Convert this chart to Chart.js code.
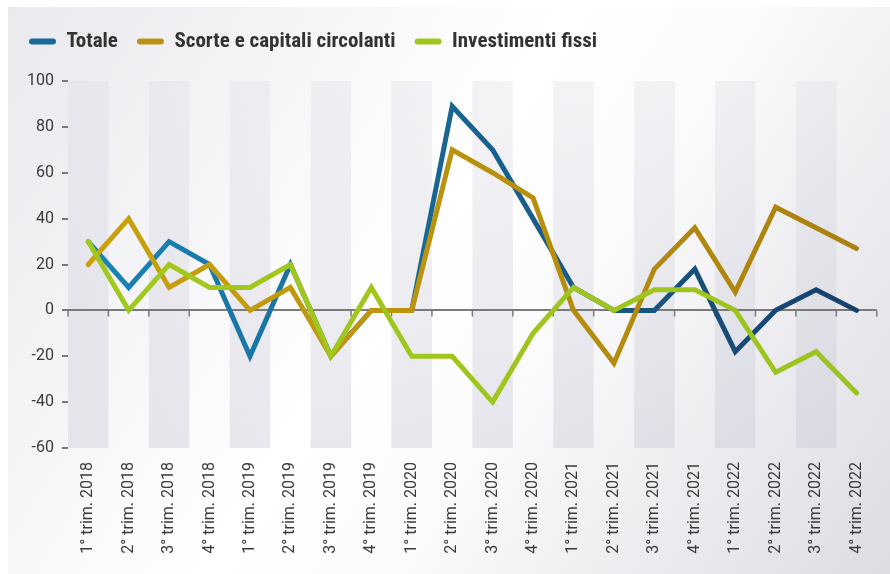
<!DOCTYPE html>
<html>
<head>
<meta charset="utf-8">
<script src="https://cdn.jsdelivr.net/npm/chart.js@4.4.1/dist/chart.umd.min.js"></script>
<style>
  html, body { margin: 0; padding: 0; background: #ffffff; }
  #wrap { width: 890px; height: 574px; position: relative; }
</style>
</head>
<body>
<div id="wrap"><canvas id="c" width="890" height="574"></canvas></div>
<script>
// ---- Data ----
const categories = [
  "1° trim. 2018", "2° trim. 2018", "3° trim. 2018", "4° trim. 2018",
  "1° trim. 2019", "2° trim. 2019", "3° trim. 2019", "4° trim. 2019",
  "1° trim. 2020", "2° trim. 2020", "3° trim. 2020", "4° trim. 2020",
  "1° trim. 2021", "2° trim. 2021", "3° trim. 2021", "4° trim. 2021",
  "1° trim. 2022", "2° trim. 2022", "3° trim. 2022", "4° trim. 2022"
];
const seriesNames = ["Totale", "Scorte e capitali circolanti", "Investimenti fissi"];
const totale       = [30, 10, 30, 20, -20, 20, -20, 0, 0, 89, 70, 40, 10, 0, 0, 18, -18, 0, 9, 0];
const scorte       = [20, 40, 10, 20, 0, 10, -20, 0, 0, 70, 60, 49, 0, -23, 18, 36, 8, 45, 36, 27];
const investimenti = [30, 0, 20, 10, 10, 20, -20, 10, -20, -20, -40, -10, 10, 0, 9, 9, 0, -27, -18, -36];
const yMin = -60, yMax = 100, yStep = 20;

// ---- Styles ----
const lineGradients = [
  ["#1a86b8", "#173f69"],
  ["#caa20c", "#a9800f"],
  ["#a3c81d", "#9cc41f"]
];
const legendColors = ["#176a99", "#bb9310", "#a0c61e"];
const FONT = "Roboto, 'Liberation Sans', sans-serif";
const LEGEND_FONT = "'Liberation Sans Narrow', 'Roboto Condensed', Roboto, sans-serif";

function gradFor(idx) {
  return function(ctx) {
    const chart = ctx.chart;
    const a = chart.chartArea;
    if (!a) return lineGradients[idx][0];
    const g = chart.ctx.createLinearGradient(a.left, 0, a.right, 0);
    g.addColorStop(0, lineGradients[idx][0]);
    g.addColorStop(1, lineGradients[idx][1]);
    return g;
  };
}

const legendSpacePlugin = {
  id: 'legendSpace',
  beforeInit(chart) {
    const orig = chart.legend.fit;
    chart.legend.fit = function() {
      orig.bind(chart.legend)();
      this.height += 19;
    };
  }
};

const bgPlugin = {
  id: 'bg',
  beforeDraw(chart) {
    const ctx = chart.ctx;
    const W = chart.width, H = chart.height;
    ctx.save();
    ctx.fillStyle = '#ffffff';
    ctx.fillRect(0, 0, W, H);
    const g = ctx.createLinearGradient(8, 7, W, H);
    g.addColorStop(0, '#e9e9ee');
    g.addColorStop(0.45, '#ffffff');
    g.addColorStop(0.6, '#fbfbfc');
    g.addColorStop(1, '#dcdce3');
    ctx.fillStyle = g;
    ctx.fillRect(8, 7, W - 8, H - 7);
    // alternating bands
    const x = chart.scales.x, a = chart.chartArea;
    const half = (x.getPixelForValue(1) - x.getPixelForValue(0)) / 2;
    const bg = ctx.createLinearGradient(0, a.top, 0, a.bottom);
    bg.addColorStop(0, 'rgba(205,205,218,0.22)');
    bg.addColorStop(1, 'rgba(200,200,214,0.42)');
    ctx.fillStyle = bg;
    for (let i = 0; i < categories.length; i += 2) {
      const cx = x.getPixelForValue(i);
      ctx.fillRect(cx - half, a.top, half * 2, a.bottom - a.top);
    }
    ctx.restore();
  }
};

const zeroTicksPlugin = {
  id: 'zeroTicks',
  beforeDatasetsDraw(chart) {
    const ctx = chart.ctx;
    const x = chart.scales.x, y = chart.scales.y;
    const y0 = y.getPixelForValue(0);
    const half = (x.getPixelForValue(1) - x.getPixelForValue(0)) / 2;
    ctx.save();
    ctx.strokeStyle = '#7a7a7a';
    ctx.lineWidth = 1.5;
    ctx.beginPath();
    for (let i = 0; i <= categories.length; i++) {
      const px = x.getPixelForValue(i) - half;
      ctx.moveTo(px, y0);
      ctx.lineTo(px, y0 + 6);
    }
    ctx.stroke();
    ctx.restore();
  }
};

const seriesData = [totale, scorte, investimenti];
const datasets = seriesData.map((d, i) => ({
  label: seriesNames[i],
  data: d,
  borderColor: gradFor(i),
  backgroundColor: legendColors[i],
  borderWidth: 5,
  borderCapStyle: 'round',
  borderJoinStyle: 'miter',
  pointRadius: 0,
  pointHoverRadius: 0,
  tension: 0,
  fill: false,
  order: 2 - i
}));

new Chart(document.getElementById('c'), {
  type: 'line',
  data: { labels: categories, datasets },
  options: {
    responsive: false,
    animation: false,
    devicePixelRatio: 1,
    layout: { padding: { left: 10, right: 10, top: 12, bottom: 0 } },
    plugins: {
      legend: {
        display: true,
        position: 'top',
        align: 'start',
        labels: {
          font: { family: LEGEND_FONT, size: 21, weight: 'bold' },
          color: '#333333',
          boxWidth: 27,
          boxHeight: 6,
          useBorderRadius: true,
          borderRadius: 3,
          padding: 19,
          sort: (a, b) => a.datasetIndex - b.datasetIndex,
          generateLabels(chart) {
            const items = Chart.defaults.plugins.legend.labels.generateLabels(chart);
            items.forEach(it => {
              it.fillStyle = legendColors[it.datasetIndex];
              it.strokeStyle = 'rgba(0,0,0,0)';
              it.lineWidth = 0;
            });
            return items;
          }
        }
      },
      tooltip: { enabled: false }
    },
    scales: {
      x: {
        offset: true,
        grid: { display: false, drawTicks: false },
        border: { display: false },
        ticks: {
          font: { family: FONT, size: 16 },
          color: '#3a3a3a',
          minRotation: 90,
          maxRotation: 90,
          autoSkip: false,
          padding: 14
        },
        afterFit(scale) { scale.height = 126; }
      },
      y: {
        min: yMin,
        max: yMax,
        ticks: {
          stepSize: yStep,
          font: { family: FONT, size: 16 },
          color: '#3a3a3a',
          padding: 8
        },
        grid: {
          drawTicks: true,
          tickLength: 6,
          tickColor: '#7a7a7a',
          lineWidth: 2,
          color: (ctx) => (ctx.tick && ctx.tick.value === 0) ? '#7a7a7a' : 'rgba(0,0,0,0)'
        },
        border: { display: false },
        afterFit(scale) { scale.width = 58; }
      }
    }
  },
  plugins: [legendSpacePlugin, bgPlugin, zeroTicksPlugin]
});
</script>
</body>
</html>
